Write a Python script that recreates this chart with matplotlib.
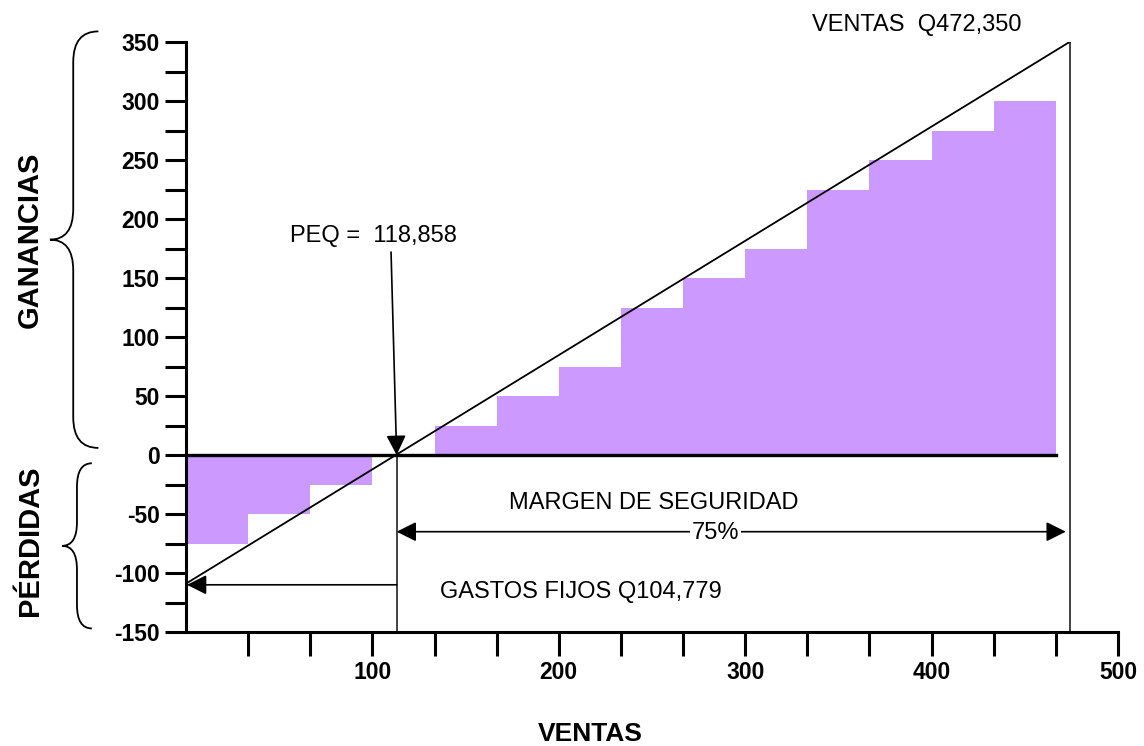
import numpy as np
import matplotlib
matplotlib.use("Agg")
import matplotlib.pyplot as plt
from matplotlib.path import Path
from matplotlib.patches import PathPatch
import matplotlib.transforms as mtransforms

plt.rcParams['font.family'] = ['Liberation Sans', 'DejaVu Sans']

# step bars (ventas in thousands, width of one step = 100/3)
step = 100 / 3
bar_left = [0, step, 2 * step,
            4 * step, 5 * step, 6 * step, 7 * step, 8 * step,
            9 * step, 10 * step, 11 * step, 12 * step, 13 * step]
bar_height = [-75, -50, -25,
              25, 50, 75, 125, 150, 175, 225, 250, 275, 300]

# break-even line and reference values
line_x = [0, 474]
line_y = [-109, 350]
peq_x = 113
ventas_x = 474
gastos_y = -110
margen_y = -65
zero_line_end = 14 * step

x_ticks = np.arange(step, 500.1, step)
x_labels = ['100', '200', '300', '400', '500']
y_ticks = np.arange(-150, 351, 25)
y_labels = [str(v) for v in range(-150, 351, 50)]

bar_color = '#CC99FF'


def brace(ax, y0, y1, x_end, x_mid, x_tip, r):
    ''' Left curly brace from y0 to y1; x in axes fraction, y in data '''
    trans = mtransforms.blended_transform_factory(ax.transAxes, ax.transData)
    ym = (y0 + y1) / 2
    verts = [(x_end, y1), (x_mid, y1), (x_mid, y1 - r),
             (x_mid, ym + r), (x_mid, ym), (x_tip, ym),
             (x_mid, ym), (x_mid, ym - r),
             (x_mid, y0 + r), (x_mid, y0), (x_end, y0)]
    codes = [Path.MOVETO, Path.CURVE3, Path.CURVE3,
             Path.LINETO, Path.CURVE3, Path.CURVE3,
             Path.CURVE3, Path.CURVE3,
             Path.LINETO, Path.CURVE3, Path.CURVE3]
    patch = PathPatch(Path(verts, codes), transform=trans, fill=False,
                      lw=1.3, color='black', clip_on=False)
    ax.add_patch(patch)


fig = plt.figure(figsize=(11.44, 7.46), dpi=100)
ax = fig.add_axes([186 / 1144, 1 - 632 / 746, 932 / 1144, 590 / 746])

ax.bar(bar_left, bar_height, width=step, align='edge', color=bar_color,
       edgecolor='none', zorder=1)

ax.plot([0, zero_line_end], [0, 0], color='black', lw=2.4, zorder=3)
ax.plot(line_x, line_y, color='black', lw=1.3, zorder=4)
ax.plot([peq_x, peq_x], [-150, 0], color='#333333', lw=1.3, zorder=2)
ax.plot([ventas_x, ventas_x], [-150, 350], color='#333333', lw=1.3, zorder=2)

arrow = dict(arrowstyle='-|>', color='black', lw=1.2, mutation_scale=30,
             shrinkA=0, shrinkB=0)
ax.annotate('', xy=(0.5, gastos_y), xytext=(peq_x, gastos_y),
            arrowprops=arrow, zorder=5)
ax.annotate('', xy=(peq_x, 0), xytext=(110, 172), arrowprops=arrow, zorder=5)
dbl = dict(arrowstyle='<|-|>', color='black', lw=1.2, mutation_scale=30,
           shrinkA=0, shrinkB=0)
ax.annotate('', xy=(peq_x, margen_y), xytext=(ventas_x - 2, margen_y),
            arrowprops=dbl, zorder=5)

ax.text(284, margen_y - 1, '75%', fontsize=17, ha='center', va='center',
        zorder=6, bbox=dict(facecolor='white', edgecolor='none', pad=1))
ax.text(251, -41, 'MARGEN DE SEGURIDAD', fontsize=17, ha='center', va='center')
ax.text(136, -116, 'GASTOS FIJOS Q104,779', fontsize=17, ha='left', va='center')
ax.text(56, 186, 'PEQ =  118,858', fontsize=17, ha='left', va='center')
ax.text(336, 364, 'VENTAS  Q472,350', fontsize=17, ha='left', va='center',
        clip_on=False)

ax.set_xlim(0, 500)
ax.set_ylim(-150, 350)
ax.set_xticks(x_ticks)
ax.set_xticklabels(['', '', x_labels[0], '', '', x_labels[1], '', '', x_labels[2],
                    '', '', x_labels[3], '', '', x_labels[4]])
ax.set_yticks(y_ticks)
ax.set_yticklabels([y_labels[i // 2] if i % 2 == 0 else '' for i in range(len(y_ticks))])
ax.tick_params(axis='y', direction='out', length=15, width=2.2, pad=4,
               labelsize=16.5)
ax.tick_params(axis='x', direction='out', length=17, width=2.2, pad=4,
               labelsize=16.5)
for lab in ax.get_xticklabels() + ax.get_yticklabels():
    lab.set_fontweight('bold')

for s in ['top', 'right']:
    ax.spines[s].set_visible(False)
for s in ['left', 'bottom']:
    ax.spines[s].set_linewidth(2.2)

ax.set_xlabel('VENTAS', fontsize=19, fontweight='bold', labelpad=27,
              x=(590 - 186) / 932)

brace(ax, 6, 359, -0.094, -0.121, -0.146, 26)
brace(ax, -147, -7, -0.101, -0.117, -0.133, 20)
fig.text(30 / 1144, 1 - 240 / 746, 'GANANCIAS', rotation=90, fontsize=21,
         fontweight='bold', ha='center', va='center')
fig.text(30 / 1144, 1 - 541 / 746, 'PÉRDIDAS', rotation=90, fontsize=21,
         fontweight='bold', ha='center', va='center')

fig.savefig('out.png', dpi=100)
